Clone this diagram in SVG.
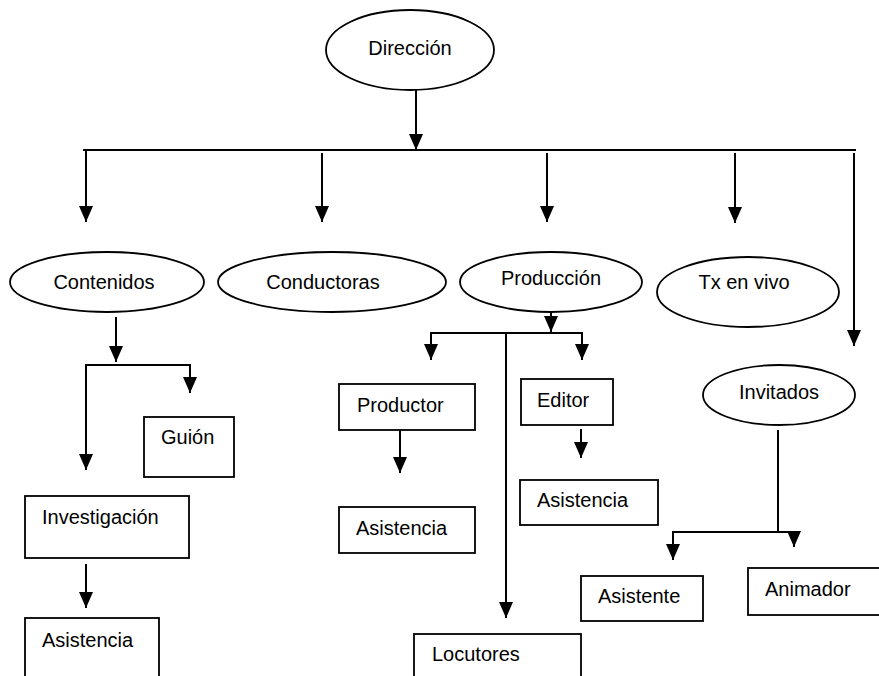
<svg xmlns="http://www.w3.org/2000/svg" width="879" height="676" viewBox="0 0 879 676">
<defs>
<marker id="ah" viewBox="0 0 16 14" refX="16" refY="7" markerWidth="16" markerHeight="14" markerUnits="userSpaceOnUse" orient="auto">
<path d="M0,0 L16,7 L0,14 Z" fill="#000"/>
</marker>
<style>
.n{fill:#fff;stroke:#000;stroke-width:1.8}
.t{font-family:"Liberation Sans",Arial,sans-serif;font-size:20px;fill:#000}
.c{text-anchor:middle}
.l{fill:none;stroke:#000;stroke-width:2}
</style>
</defs>
<rect width="879" height="676" fill="#fff"/>
<g id="connectors">
<path class="l" d="M416,90 V150" marker-end="url(#ah)"/>
<path class="l" d="M83,150 H856"/>
<path class="l" d="M86,151 V222" marker-end="url(#ah)"/>
<path class="l" d="M322,153 V222" marker-end="url(#ah)"/>
<path class="l" d="M547,153 V222" marker-end="url(#ah)"/>
<path class="l" d="M735,153 V223" marker-end="url(#ah)"/>
<path class="l" d="M854,153 V346" marker-end="url(#ah)"/>
<path class="l" d="M116,317 V362" marker-end="url(#ah)"/>
<path class="l" d="M86,365 H190"/>
<path class="l" d="M190,364 V393" marker-end="url(#ah)"/>
<path class="l" d="M86,364 V470" marker-end="url(#ah)"/>
<path class="l" d="M86,564 V608" marker-end="url(#ah)"/>
<path class="l" d="M551,313 V332" marker-end="url(#ah)"/>
<path class="l" d="M431,333 H582"/>
<path class="l" d="M431,332 V360" marker-end="url(#ah)"/>
<path class="l" d="M582,332 V360" marker-end="url(#ah)"/>
<path class="l" d="M506,332 V618" marker-end="url(#ah)"/>
<path class="l" d="M400,430 V473" marker-end="url(#ah)"/>
<path class="l" d="M581,429 V458" marker-end="url(#ah)"/>
<path class="l" d="M778,430 V532"/>
<path class="l" d="M673,532 H794"/>
<path class="l" d="M673,531 V560" marker-end="url(#ah)"/>
<path class="l" d="M794,531 V547" marker-end="url(#ah)"/>
</g>
<g id="direccion"><ellipse class="n" cx="410" cy="50" rx="84" ry="40"/><text class="t c" x="410" y="55">Dirección</text></g>
<g id="contenidos"><ellipse class="n" cx="107" cy="282" rx="97" ry="30"/><text class="t c" x="104" y="289">Contenidos</text></g>
<g id="conductoras"><ellipse class="n" cx="332" cy="282" rx="114" ry="30"/><text class="t c" x="323" y="289">Conductoras</text></g>
<g id="produccion"><ellipse class="n" cx="551" cy="282" rx="91" ry="30"/><text class="t c" x="551" y="285">Producción</text></g>
<g id="txenvivo"><ellipse class="n" cx="748" cy="292" rx="91" ry="35"/><text class="t c" x="744" y="289">Tx en vivo</text></g>
<g id="invitados"><ellipse class="n" cx="779" cy="395" rx="76" ry="30"/><text class="t c" x="779" y="399">Invitados</text></g>
<g id="guion"><rect class="n" x="144" y="417" width="90" height="60"/><text class="t" x="161" y="444">Guión</text></g>
<g id="investigacion"><rect class="n" x="25" y="496" width="164" height="62"/><text class="t" x="42" y="524">Investigación</text></g>
<g id="asistencia1"><rect class="n" x="25" y="618" width="134" height="70"/><text class="t" x="42" y="647">Asistencia</text></g>
<g id="productor"><rect class="n" x="339" y="384" width="136" height="46"/><text class="t" x="357" y="412">Productor</text></g>
<g id="asistencia2"><rect class="n" x="339" y="507" width="136" height="46"/><text class="t" x="356" y="535">Asistencia</text></g>
<g id="editor"><rect class="n" x="521" y="379" width="92" height="46"/><text class="t" x="537" y="407">Editor</text></g>
<g id="asistencia3"><rect class="n" x="520" y="480" width="138" height="45"/><text class="t" x="537" y="507">Asistencia</text></g>
<g id="locutores"><rect class="n" x="414" y="634" width="167" height="60"/><text class="t" x="432" y="661">Locutores</text></g>
<g id="asistente"><rect class="n" x="581" y="576" width="122" height="45"/><text class="t" x="598" y="603">Asistente</text></g>
<g id="animador"><rect class="n" x="748" y="568" width="140" height="47"/><text class="t" x="765" y="596">Animador</text></g>
</svg>
